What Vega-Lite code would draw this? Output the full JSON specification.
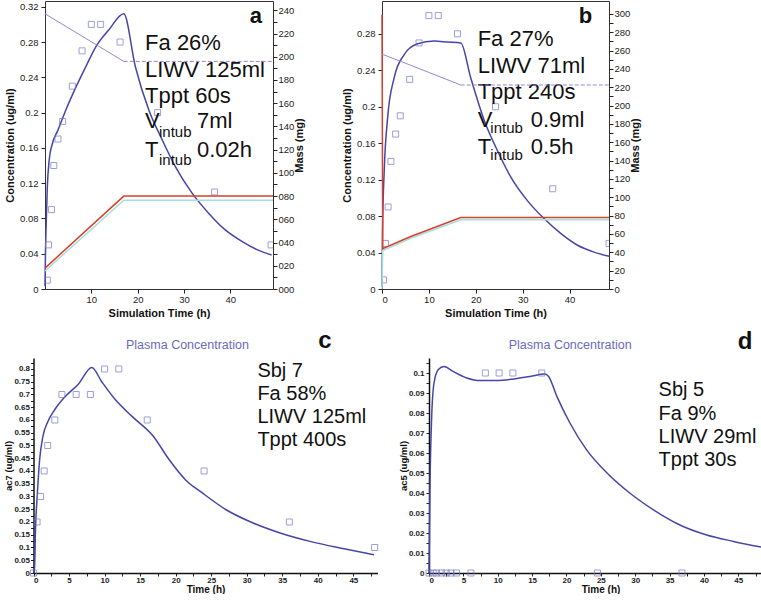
{
  "$schema": "https://vega.github.io/schema/vega-lite/v6.json",
  "background": "white",
  "padding": {"left": 3, "top": 0, "right": 0, "bottom": 0},
  "config": {
    "font": "Liberation Sans",
    "view": {"stroke": null},
    "axis": {"grid": false, "labelFont": "Liberation Sans", "titleFont": "Liberation Sans", "labelColor": "#222", "titleColor": "#111", "domainColor": "#222", "tickColor": "#222"},
    "text": {"font": "Liberation Sans"}
  },
  "datasets": {
    "a_conc": [
      {"t": 0, "c": 0.003}, {"t": 0.1, "c": 0.04}, {"t": 0.2, "c": 0.064}, {"t": 0.5, "c": 0.116}, {"t": 0.9, "c": 0.146},
      {"t": 1.6, "c": 0.165}, {"t": 2.7, "c": 0.179}, {"t": 4.5, "c": 0.203}, {"t": 6.6, "c": 0.228}, {"t": 8.8, "c": 0.252},
      {"t": 10.9, "c": 0.274}, {"t": 13.8, "c": 0.294}, {"t": 17, "c": 0.312}, {"t": 19.5, "c": 0.252}, {"t": 22.4, "c": 0.203},
      {"t": 25.3, "c": 0.169}, {"t": 28.1, "c": 0.139}, {"t": 31.7, "c": 0.109}, {"t": 35.3, "c": 0.086}, {"t": 38.9, "c": 0.067},
      {"t": 42.5, "c": 0.054}, {"t": 46, "c": 0.044}, {"t": 48.9, "c": 0.0386}
    ],
    "a_obs": [
      {"t": 0.5, "c": 0.01}, {"t": 0.75, "c": 0.05}, {"t": 1.4, "c": 0.09}, {"t": 1.9, "c": 0.14}, {"t": 2.8, "c": 0.17},
      {"t": 3.8, "c": 0.19}, {"t": 5.9, "c": 0.23}, {"t": 8, "c": 0.27}, {"t": 10, "c": 0.3}, {"t": 12, "c": 0.3},
      {"t": 16.2, "c": 0.28}, {"t": 24.3, "c": 0.2}, {"t": 36.6, "c": 0.11}, {"t": 48.8, "c": 0.05}
    ],
    "a_m1": [{"t": 0, "m": 237}, {"t": 17, "m": 196}],
    "a_m1d": [{"t": 17, "m": 196}, {"t": 49.2, "m": 196}],
    "a_m2": [{"t": 0, "m": 18}, {"t": 17, "m": 80}, {"t": 49.2, "m": 80}],
    "a_m3": [{"t": 0, "m": 15.5}, {"t": 17, "m": 76.5}, {"t": 49.2, "m": 76.5}],
    "a_txt": [
      {"t": 21.6, "c": 0.271, "label": "Fa 26%"}, {"t": 21.6, "c": 0.2398, "label": "LIWV 125ml"}, {"t": 21.6, "c": 0.211, "label": "Tppt 60s"},
      {"t": 21.6, "c": 0.1827, "label": "V"}, {"t": 21.6, "c": 0.1498, "label": "T"},
      {"t": 32.8, "c": 0.1827, "label": "7ml"}, {"t": 32.8, "c": 0.1498, "label": "0.02h"}
    ],
    "a_sub": [{"t": 24.6, "c": 0.1728, "label": "intub"}, {"t": 24.6, "c": 0.1407, "label": "intub"}],
    "a_let": [{"t": 45.5, "c": 0.302, "label": "a"}],
    "b_conc": [
      {"t": 0, "c": 0.003}, {"t": 0.1, "c": 0.06}, {"t": 0.5, "c": 0.133}, {"t": 1.2, "c": 0.188}, {"t": 2.6, "c": 0.232},
      {"t": 4.7, "c": 0.257}, {"t": 7.6, "c": 0.269}, {"t": 11.1, "c": 0.272}, {"t": 14, "c": 0.271}, {"t": 16.8, "c": 0.27},
      {"t": 18.9, "c": 0.232}, {"t": 21.8, "c": 0.185}, {"t": 24.6, "c": 0.152}, {"t": 27.5, "c": 0.1225}, {"t": 31, "c": 0.097},
      {"t": 34.6, "c": 0.077}, {"t": 38.1, "c": 0.061}, {"t": 41.7, "c": 0.048}, {"t": 45.2, "c": 0.0405}, {"t": 48.4, "c": 0.036}
    ],
    "b_obs": [
      {"t": 0.32, "c": 0.01}, {"t": 0.75, "c": 0.05}, {"t": 1.3, "c": 0.09}, {"t": 1.9, "c": 0.14}, {"t": 2.9, "c": 0.17},
      {"t": 3.9, "c": 0.19}, {"t": 5.9, "c": 0.23}, {"t": 7.9, "c": 0.27}, {"t": 10, "c": 0.3}, {"t": 12, "c": 0.3},
      {"t": 16.1, "c": 0.28}, {"t": 24.2, "c": 0.2}, {"t": 36.4, "c": 0.11}, {"t": 48.4, "c": 0.05}
    ],
    "b_m1": [{"t": 0, "m": 256}, {"t": 6.1, "m": 244}, {"t": 16.8, "m": 222.4}],
    "b_m1d": [{"t": 16.8, "m": 222.4}, {"t": 48.4, "m": 222.4}],
    "b_m2": [{"t": 0, "m": 299}, {"t": 0.15, "m": 44}, {"t": 6, "m": 57}, {"t": 16.8, "m": 78}, {"t": 48.4, "m": 78}],
    "b_m3": [{"t": 0, "m": 0}, {"t": 0.15, "m": 42}, {"t": 6, "m": 55}, {"t": 16.8, "m": 75.5}, {"t": 48.4, "m": 75.5}],
    "b_txt": [
      {"t": 20.4, "c": 0.2667, "label": "Fa 27%"}, {"t": 20.4, "c": 0.2374, "label": "LIWV 71ml"}, {"t": 20.4, "c": 0.208, "label": "Tppt 240s"},
      {"t": 20.4, "c": 0.1774, "label": "V"}, {"t": 20.4, "c": 0.148, "label": "T"},
      {"t": 31.7, "c": 0.1774, "label": "0.9ml"}, {"t": 31.7, "c": 0.148, "label": "0.5h"}
    ],
    "b_sub": [{"t": 23.1, "c": 0.1708, "label": "intub"}, {"t": 23.1, "c": 0.1414, "label": "intub"}],
    "b_let": [{"t": 43.4, "c": 0.2923, "label": "b"}],
    "c_conc": [
      {"t": 0, "c": 0}, {"t": 0.15, "c": 0.02}, {"t": 0.28, "c": 0.17}, {"t": 0.52, "c": 0.3}, {"t": 0.85, "c": 0.44},
      {"t": 1.32, "c": 0.535}, {"t": 2.03, "c": 0.594}, {"t": 2.98, "c": 0.64}, {"t": 4.4, "c": 0.69}, {"t": 6.3, "c": 0.74},
      {"t": 8.2, "c": 0.806}, {"t": 9.6, "c": 0.75}, {"t": 11.5, "c": 0.68}, {"t": 13.9, "c": 0.613}, {"t": 16.8, "c": 0.538},
      {"t": 19.1, "c": 0.444}, {"t": 21.4, "c": 0.365}, {"t": 23.8, "c": 0.313}, {"t": 27.1, "c": 0.248}, {"t": 30.9, "c": 0.196},
      {"t": 34.7, "c": 0.157}, {"t": 38.9, "c": 0.124}, {"t": 43.7, "c": 0.095}, {"t": 47.9, "c": 0.0716}
    ],
    "c_obs": [
      {"t": 0, "c": 0}, {"t": 0.5, "c": 0.2}, {"t": 1, "c": 0.3}, {"t": 1.5, "c": 0.4}, {"t": 2, "c": 0.5}, {"t": 3, "c": 0.6},
      {"t": 4, "c": 0.7}, {"t": 6, "c": 0.7}, {"t": 8, "c": 0.7}, {"t": 10, "c": 0.8}, {"t": 12, "c": 0.8}, {"t": 16, "c": 0.6},
      {"t": 24, "c": 0.4}, {"t": 36, "c": 0.2}, {"t": 48, "c": 0.1}
    ],
    "c_txt": [
      {"t": 31.5, "c": 0.77, "label": "Sbj 7"}, {"t": 31.5, "c": 0.678, "label": "Fa 58%"},
      {"t": 31.5, "c": 0.587, "label": "LIWV 125ml"}, {"t": 31.5, "c": 0.496, "label": "Tppt 400s"}
    ],
    "c_let": [{"t": 41.0, "c": 0.881, "label": "c"}],
    "d_conc": [
      {"t": 0, "c": 0}, {"t": 0.15, "c": 0.045}, {"t": 0.39, "c": 0.078}, {"t": 0.73, "c": 0.095}, {"t": 1.36, "c": 0.1017},
      {"t": 2.2, "c": 0.1033}, {"t": 3.5, "c": 0.1008}, {"t": 5.5, "c": 0.0975}, {"t": 7.4, "c": 0.0962}, {"t": 9.8, "c": 0.0962},
      {"t": 12.3, "c": 0.097}, {"t": 14.7, "c": 0.0983}, {"t": 16.9, "c": 0.0995}, {"t": 17.4, "c": 0.0983}, {"t": 18.6, "c": 0.0883},
      {"t": 20.5, "c": 0.075}, {"t": 22.9, "c": 0.0617}, {"t": 25.9, "c": 0.05}, {"t": 29.2, "c": 0.04}, {"t": 32.6, "c": 0.0317},
      {"t": 36.5, "c": 0.024}, {"t": 40.4, "c": 0.019}, {"t": 44.3, "c": 0.0158}, {"t": 49.1, "c": 0.0125}
    ],
    "d_obs": [
      {"t": 0, "c": 0}, {"t": 0.6, "c": 0}, {"t": 1.1, "c": 0}, {"t": 1.8, "c": 0}, {"t": 2.5, "c": 0}, {"t": 3.2, "c": 0},
      {"t": 4, "c": 0}, {"t": 6.1, "c": 0}, {"t": 8.2, "c": 0.1}, {"t": 10.2, "c": 0.1}, {"t": 12.2, "c": 0.1}, {"t": 16.4, "c": 0.1},
      {"t": 24.5, "c": 0}, {"t": 36.8, "c": 0}, {"t": 49, "c": 0}
    ],
    "d_txt": [
      {"t": 33.4, "c": 0.0883, "label": "Sbj 5"}, {"t": 33.4, "c": 0.0767, "label": "Fa 9%"},
      {"t": 33.4, "c": 0.065, "label": "LIWV 29ml"}, {"t": 33.4, "c": 0.0533, "label": "Tppt 30s"}
    ],
    "d_let": [{"t": 46.0, "c": 0.1121, "label": "d"}]
  },
  "concat": [
    {
      "hconcat": [
        {
          "width": 228, "height": 288,
          "view": {"stroke": "#333", "strokeWidth": 1},
          "encoding": {
            "x": {"field": "t", "type": "quantitative", "scale": {"domain": [0, 49.2], "nice": false},
              "axis": {"values": [10, 20, 30, 40], "title": "Simulation Time (h)", "titleFontSize": 11, "titleFontWeight": "bold", "labelFontSize": 9.5, "tickSize": 4, "labelPadding": 1, "titlePadding": 4, "domain": false}}
          },
          "layer": [
            {
              "encoding": {"y": {"field": "c", "type": "quantitative", "scale": {"domain": [0, 0.3265], "nice": false, "zero": false},
                "axis": {"values": [0, 0.04, 0.08, 0.12, 0.16, 0.2, 0.24, 0.28, 0.32], "format": "~g", "title": "Concentration (ug/ml)", "titleFontSize": 11, "titleFontWeight": "bold", "labelFontSize": 9.5, "tickSize": 4, "labelPadding": 3, "titlePadding": 4, "domain": false}}},
              "layer": [
                {"data": {"name": "a_conc"}, "mark": {"type": "line", "color": "#4646a6", "strokeWidth": 1.5, "interpolate": "monotone"}},
                {"data": {"name": "a_obs"}, "mark": {"type": "point", "shape": "square", "filled": false, "color": "#7676c6", "size": 36, "strokeWidth": 1, "clip": true}},
                {"data": {"name": "a_txt"}, "mark": {"type": "text", "fontSize": 22, "align": "left", "baseline": "alphabetic", "color": "#111"}, "encoding": {"text": {"field": "label"}}},
                {"data": {"name": "a_sub"}, "mark": {"type": "text", "fontSize": 15, "align": "left", "baseline": "alphabetic", "color": "#111"}, "encoding": {"text": {"field": "label"}}},
                {"data": {"name": "a_let"}, "mark": {"type": "text", "fontSize": 22, "fontWeight": "bold", "align": "center", "baseline": "alphabetic", "color": "#111"}, "encoding": {"text": {"field": "label"}}}
              ]
            },
            {
              "encoding": {"y": {"field": "m", "type": "quantitative", "scale": {"domain": [0, 248], "nice": false, "zero": false},
                "axis": {"orient": "right", "values": [0, 10, 20, 30, 40, 50, 60, 70, 80, 90, 100, 110, 120, 130, 140, 150, 160, 170, 180, 190, 200, 210, 220, 230, 240], "labelExpr": "datum.value % 20 == 0 ? format(datum.value, '03d') : ''", "title": "Mass (mg)", "titleAngle": 270, "titleBaseline": "top", "titleFontSize": 11, "titleFontWeight": "bold", "labelFontSize": 9.5, "tickSize": 4, "labelPadding": 1, "titlePadding": 0, "domain": false}}},
              "layer": [
                {"data": {"name": "a_m3"}, "mark": {"type": "line", "color": "#a6dede", "strokeWidth": 1.5}},
                {"data": {"name": "a_m2"}, "mark": {"type": "line", "color": "#d8402c", "strokeWidth": 1.5}},
                {"data": {"name": "a_m1"}, "mark": {"type": "line", "color": "#9c84d0", "strokeWidth": 1}},
                {"data": {"name": "a_m1d"}, "mark": {"type": "line", "color": "#9c84d0", "strokeWidth": 1, "strokeDash": [4, 2]}}
              ]
            }
          ],
          "resolve": {"scale": {"y": "independent"}}
        },
        {
          "width": 227, "height": 288,
          "view": {"stroke": "#333", "strokeWidth": 1},
          "encoding": {
            "x": {"field": "t", "type": "quantitative", "scale": {"domain": [0, 48.4], "nice": false},
              "axis": {"values": [0, 10, 20, 30, 40], "title": "Simulation Time (h)", "titleFontSize": 11, "titleFontWeight": "bold", "labelFontSize": 9.5, "tickSize": 4, "labelPadding": 1, "titlePadding": 4, "domain": false}}
          },
          "layer": [
            {
              "encoding": {"y": {"field": "c", "type": "quantitative", "scale": {"domain": [0, 0.316], "nice": false, "zero": false},
                "axis": {"values": [0, 0.04, 0.08, 0.12, 0.16, 0.2, 0.24, 0.28], "format": "~g", "title": "Concentration (ug/ml)", "titleFontSize": 11, "titleFontWeight": "bold", "labelFontSize": 9.5, "tickSize": 4, "labelPadding": 3, "titlePadding": 4, "domain": false}}},
              "layer": [
                {"data": {"name": "b_conc"}, "mark": {"type": "line", "color": "#4646a6", "strokeWidth": 1.5, "interpolate": "monotone"}},
                {"data": {"name": "b_obs"}, "mark": {"type": "point", "shape": "square", "filled": false, "color": "#7676c6", "size": 36, "strokeWidth": 1, "clip": true}},
                {"data": {"name": "b_txt"}, "mark": {"type": "text", "fontSize": 22, "align": "left", "baseline": "alphabetic", "color": "#111"}, "encoding": {"text": {"field": "label"}}},
                {"data": {"name": "b_sub"}, "mark": {"type": "text", "fontSize": 15, "align": "left", "baseline": "alphabetic", "color": "#111"}, "encoding": {"text": {"field": "label"}}},
                {"data": {"name": "b_let"}, "mark": {"type": "text", "fontSize": 22, "fontWeight": "bold", "align": "center", "baseline": "alphabetic", "color": "#111"}, "encoding": {"text": {"field": "label"}}}
              ]
            },
            {
              "encoding": {"y": {"field": "m", "type": "quantitative", "scale": {"domain": [0, 314], "nice": false, "zero": false},
                "axis": {"orient": "right", "values": [0, 10, 20, 30, 40, 50, 60, 70, 80, 90, 100, 110, 120, 130, 140, 150, 160, 170, 180, 190, 200, 210, 220, 230, 240, 250, 260, 270, 280, 290, 300], "labelExpr": "datum.value % 20 == 0 ? format(datum.value, 'd') : ''", "title": "Mass (mg)", "titleAngle": 270, "titleBaseline": "top", "titleFontSize": 11, "titleFontWeight": "bold", "labelFontSize": 9.5, "tickSize": 4, "labelPadding": 1, "titlePadding": 0, "domain": false}}},
              "layer": [
                {"data": {"name": "b_m3"}, "mark": {"type": "line", "color": "#a6dede", "strokeWidth": 1.5}},
                {"data": {"name": "b_m2"}, "mark": {"type": "line", "color": "#d8402c", "strokeWidth": 1.5}},
                {"data": {"name": "b_m1"}, "mark": {"type": "line", "color": "#9c84d0", "strokeWidth": 1, "interpolate": "monotone"}},
                {"data": {"name": "b_m1d"}, "mark": {"type": "line", "color": "#9c84d0", "strokeWidth": 1, "strokeDash": [4, 2]}}
              ]
            }
          ],
          "resolve": {"scale": {"y": "independent"}}
        }
      ],
      "spacing": 35
    },
    {
      "hconcat": [
        {
          "width": 332.5, "height": 215,
          "title": {"text": "Plasma Concentration", "fontSize": 12.5, "fontWeight": "normal", "color": "#6a6ac0", "frame": "bounds", "anchor": "middle", "offset": -22, "dx": -9},
          "encoding": {
            "x": {"field": "t", "type": "quantitative", "scale": {"domain": [0, 48.4], "nice": false, "range": [-11.5, 332.5]},
              "axis": {"values": [0, 2.5, 5, 7.5, 10, 12.5, 15, 17.5, 20, 22.5, 25, 27.5, 30, 32.5, 35, 37.5, 40, 42.5, 45, 47.5], "labelExpr": "datum.value % 5 == 0 ? format(datum.value, 'd') : ''", "title": "Time (h)", "titleFontSize": 10, "titleFontWeight": "bold", "labelFontSize": 8, "labelFontWeight": "bold", "tickSize": 3, "labelPadding": 0, "titlePadding": 0, "domainWidth": 1.5, "domainColor": "#111"}},
            "y": {"field": "c", "type": "quantitative", "scale": {"domain": [0, 0.843], "nice": false, "zero": false},
              "axis": {"offset": 11.5, "values": [0, 0.025, 0.05, 0.075, 0.1, 0.125, 0.15, 0.175, 0.2, 0.225, 0.25, 0.275, 0.3, 0.325, 0.35, 0.375, 0.4, 0.425, 0.45, 0.475, 0.5, 0.525, 0.55, 0.575, 0.6, 0.625, 0.65, 0.675, 0.7, 0.725, 0.75, 0.775, 0.8, 0.825], "labelExpr": "round(datum.value * 40) % 2 == 0 ? format(datum.value, '~g') : ''", "title": "ac7 (ug/ml)", "titleFontSize": 9.5, "titleFontWeight": "bold", "labelFontSize": 8, "labelFontWeight": "bold", "tickSize": 3, "labelPadding": 1, "titlePadding": 0, "domainWidth": 1.5, "domainColor": "#111"}}
          },
          "layer": [
            {"data": {"name": "c_conc"}, "mark": {"type": "line", "color": "#4646a6", "strokeWidth": 1.5, "interpolate": "monotone"}},
            {"data": {"name": "c_obs"}, "mark": {"type": "point", "shape": "square", "filled": false, "color": "#7676c6", "size": 36, "strokeWidth": 1}},
            {"data": {"name": "c_txt"}, "mark": {"type": "text", "fontSize": 20, "align": "left", "baseline": "alphabetic", "color": "#111"}, "encoding": {"text": {"field": "label"}}},
            {"data": {"name": "c_let"}, "mark": {"type": "text", "fontSize": 24, "fontWeight": "bold", "align": "center", "baseline": "alphabetic", "color": "#111"}, "encoding": {"text": {"field": "label"}}}
          ]
        },
        {
          "width": 343, "height": 215,
          "title": {"text": "Plasma Concentration", "fontSize": 12.5, "fontWeight": "normal", "color": "#6a6ac0", "frame": "bounds", "anchor": "middle", "offset": -22, "dx": -15},
          "encoding": {
            "x": {"field": "t", "type": "quantitative", "scale": {"domain": [0, 49.9], "nice": false},
              "axis": {"values": [0, 2.5, 5, 7.5, 10, 12.5, 15, 17.5, 20, 22.5, 25, 27.5, 30, 32.5, 35, 37.5, 40, 42.5, 45, 47.5], "labelExpr": "datum.value % 5 == 0 ? format(datum.value, 'd') : ''", "title": "Time (h)", "titleFontSize": 10, "titleFontWeight": "bold", "labelFontSize": 8, "labelFontWeight": "bold", "tickSize": 3, "labelPadding": 0, "titlePadding": 0, "domainWidth": 1.5, "domainColor": "#111"}},
            "y": {"field": "c", "type": "quantitative", "scale": {"domain": [0, 0.1075], "nice": false, "zero": false},
              "axis": {"values": [0, 0.005, 0.01, 0.015, 0.02, 0.025, 0.03, 0.035, 0.04, 0.045, 0.05, 0.055, 0.06, 0.065, 0.07, 0.075, 0.08, 0.085, 0.09, 0.095, 0.1, 0.105], "labelExpr": "round(datum.value * 200) % 2 == 0 ? format(datum.value, '~g') : ''", "title": "ac5 (ug/ml)", "titleFontSize": 9.5, "titleFontWeight": "bold", "labelFontSize": 8, "labelFontWeight": "bold", "tickSize": 3, "labelPadding": 2, "titlePadding": 0, "domainWidth": 1.5, "domainColor": "#111"}}
          },
          "layer": [
            {"data": {"name": "d_conc"}, "mark": {"type": "line", "color": "#4646a6", "strokeWidth": 1.5, "interpolate": "monotone"}},
            {"data": {"name": "d_obs"}, "mark": {"type": "point", "shape": "square", "filled": false, "color": "#7676c6", "size": 36, "strokeWidth": 1}},
            {"data": {"name": "d_txt"}, "mark": {"type": "text", "fontSize": 20, "align": "left", "baseline": "alphabetic", "color": "#111"}, "encoding": {"text": {"field": "label"}}},
            {"data": {"name": "d_let"}, "mark": {"type": "text", "fontSize": 24, "fontWeight": "bold", "align": "center", "baseline": "alphabetic", "color": "#111"}, "encoding": {"text": {"field": "label"}}}
          ]
        }
      ],
      "spacing": 9
    }
  ],
  "columns": 1,
  "align": "none",
  "spacing": 10
}
